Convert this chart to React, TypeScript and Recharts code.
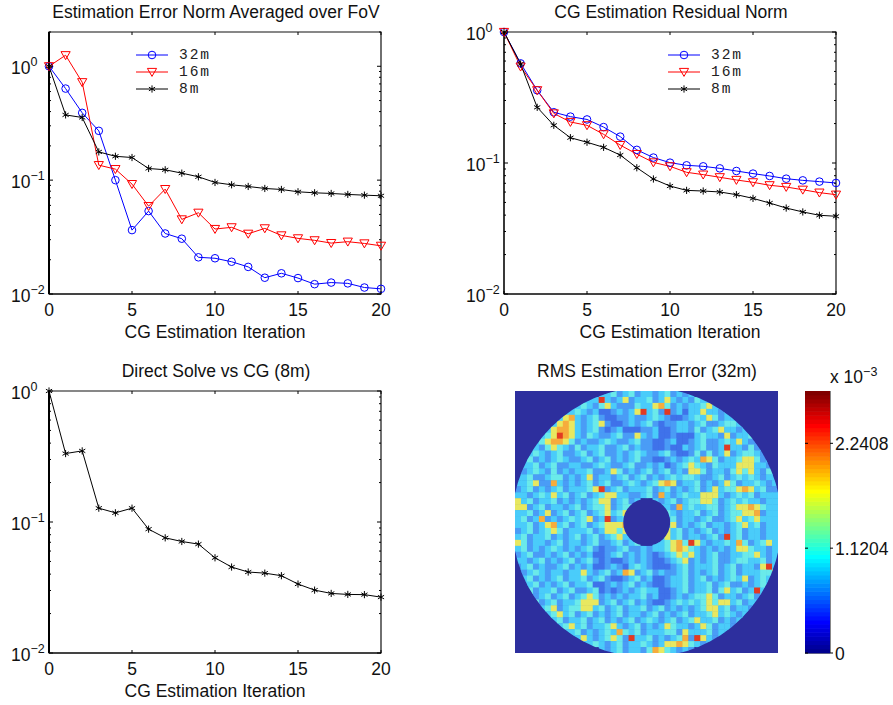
import { CSSProperties } from "react";
import {
  Line,
  LineChart,
  ReferenceArea,
  Scatter,
  ScatterChart,
  XAxis,
  YAxis,
} from "recharts";

const ITERATIONS = [0, 1, 2, 3, 4, 5, 6, 7, 8, 9, 10, 11, 12, 13, 14, 15, 16, 17, 18, 19, 20];
const X_TICKS = [0, 5, 10, 15, 20];

const FOV_32M = [1, 0.637, 0.39, 0.271, 0.1, 0.0364, 0.0535, 0.034, 0.0306, 0.021, 0.0206, 0.0192, 0.0173, 0.0139, 0.0152, 0.0138, 0.0122, 0.0126, 0.0124, 0.0114, 0.0111];
const FOV_16M = [1, 1.25, 0.724, 0.1354, 0.1249, 0.0923, 0.0591, 0.0834, 0.0452, 0.0517, 0.0372, 0.0385, 0.0338, 0.0377, 0.0327, 0.0308, 0.0296, 0.028, 0.0288, 0.0278, 0.0265];
const FOV_8M = [1, 0.374, 0.355, 0.177, 0.162, 0.158, 0.1266, 0.1233, 0.1152, 0.107, 0.0954, 0.091, 0.088, 0.0845, 0.0828, 0.079, 0.0774, 0.0764, 0.0749, 0.0738, 0.0729];

const RES_32M = [1, 0.576, 0.359, 0.244, 0.226, 0.215, 0.188, 0.159, 0.126, 0.11, 0.1006, 0.096, 0.0943, 0.091, 0.0869, 0.083, 0.0796, 0.0759, 0.0737, 0.0721, 0.0704];
const RES_16M = [1, 0.544, 0.359, 0.239, 0.2056, 0.194, 0.1655, 0.137, 0.117, 0.101, 0.0943, 0.0849, 0.0815, 0.0778, 0.0742, 0.0712, 0.0676, 0.0656, 0.0625, 0.0594, 0.0573];
const RES_8M = [1, 0.57, 0.266, 0.194, 0.156, 0.144, 0.1317, 0.115, 0.092, 0.0755, 0.0667, 0.0618, 0.0611, 0.0601, 0.0573, 0.0537, 0.0495, 0.0453, 0.0423, 0.0399, 0.0392];

const DIRECT_8M = [1, 0.333, 0.349, 0.1275, 0.1175, 0.1275, 0.0882, 0.0757, 0.071, 0.0678, 0.0533, 0.0453, 0.0415, 0.0407, 0.0389, 0.0336, 0.0302, 0.0285, 0.028, 0.0279, 0.0267];

const MINOR_LOG = [0.02, 0.03, 0.04, 0.05, 0.06, 0.07, 0.08, 0.09, 0.2, 0.3, 0.4, 0.5, 0.6, 0.7, 0.8, 0.9];
const DECADES: Record<string, string> = { "1": "0", "0.1": "\u22121", "0.01": "\u22122" };

// error map on a coarse 44 x 44 grid ("." is outside the annulus)
const HEAT_ROWS = [
  "........... ...33423423 32342323... ...........",
  "........... 33373235233 42353232433 ...........",
  ".........33 43245322243 35642323345 32.........",
  "........334 32311232357 34272313353 323........",
  "......33563 23421122322 34321123435 42334......",
  ".....335653 23452112323 42122332342 234433.....",
  "....3356653 23421231112 23112332423 4533233....",
  "...33457653 24322342253 23112111343 32523342...",
  "..334566542 32234322342 21123112342 234353223..",
  "..332454324 23342234232 21121132342 237332423..",
  ".3343234223 42342232343 22342112424 2352344323.",
  "33423234322 34234232342 21123234365 42334554233",
  "33342342233 22343223422 32312345432 43335553323",
  "32343242323 34223542323 42342325542 33245453243",
  "33422344232 35233234234 23234344322 34234343233",
  "33452263232 34234223432 34565233423 23542334323",
  "23423234233 34572342333 42342323423 53445653422",
  "33234353423 42345533223 42632343355 53234342333",
  "53423342323 2345523423. .3234234455 42343433233",
  "55234233234 234452344.. ..332634334 42345565433",
  "33423523423 42345345... ...43233423 42344556233",
  "34236232343 45237234... ...34233234 22345345333",
  "33423563423 42345556... ...45232342 33234534233",
  "23423454233 34235545... ...53423234 23234233233",
  "34233423234 234234533.. ..353423323 42734233233",
  "54233234233 2342234234. .3345647532 33436423453",
  "34232343232 34212234223 23345654323 23235543323",
  "23422323423 23112342323 21234545323 42233445323",
  "33234232342 34212112323 21123452323 42234433423",
  "23423223423 23112321343 21112342333 42342332573",
  "32343233233 53234236523 42322342323 42342333445",
  "33423234233 42342112342 31123342342 32343523433",
  "33342323423 34112323423 21123342334 23422323433",
  ".3423342342 23412123234 33112342334 2453423733.",
  "..323423423 45423232334 23112323445 423323423..",
  "..342342334 55523423423 21123434345 455342333..",
  "...23452344 55342342334 23423232345 53423323...",
  "....3345342 34232342332 34232342334 5343233....",
  ".....334233 42342323423 43234234533 423233.....",
  "......33453 42334532342 32354332354 23323......",
  "........334 23234364342 33344253334 233........",
  ".........33 53234542733 42323462753 23.........",
  "........... 33432342334 32355654323 ...........",
  "........... ...32342332 46543232... ...........",
];

const HEAT_COLORS: Record<string, string> = {
  ".": "#2d2f9e",
  "1": "#3f72ea",
  "2": "#4a9cf6",
  "3": "#4accfa",
  "4": "#6aeaea",
  "5": "#e8e860",
  "6": "#f6ac3c",
  "7": "#e23a22",
};

const COLORBAR_COLORS = [
  "#00008F", "#00009F", "#0000AF", "#0000BF", "#0000CF", "#0000DF", "#0000EF", "#0000FF",
  "#0010FF", "#0020FF", "#0030FF", "#0040FF", "#0050FF", "#0060FF", "#0070FF", "#0080FF",
  "#008FFF", "#009FFF", "#00AFFF", "#00BFFF", "#00CFFF", "#00DFFF", "#00EFFF", "#00FFFF",
  "#10FFEF", "#20FFDF", "#30FFCF", "#40FFBF", "#50FFAF", "#60FF9F", "#70FF8F", "#80FF80",
  "#8FFF70", "#9FFF60", "#AFFF50", "#BFFF40", "#CFFF30", "#DFFF20", "#EFFF10", "#FFFF00",
  "#FFEF00", "#FFDF00", "#FFCF00", "#FFBF00", "#FFAF00", "#FF9F00", "#FF8F00", "#FF8000",
  "#FF7000", "#FF6000", "#FF5000", "#FF4000", "#FF3000", "#FF2000", "#FF1000", "#FF0000",
  "#EF0000", "#DF0000", "#CF0000", "#BF0000", "#AF0000", "#9F0000", "#8F0000", "#800000",
];
const COLORBAR_MAX = 2.8;
const COLORBAR_TICKS = [0, 1.1204, 2.2408];

const FONT = "'Liberation Sans', Arial, sans-serif";
const FONT_SIZE = 17.5;
const PLOT_W = 332;
const PLOT_H = 262;

const heatCells = HEAT_ROWS.flatMap((row, r) =>
  row
    .replace(/ /g, "")
    .split("")
    .map((code, c) => ({ col: c + 0.5, row: r + 0.5, code }))
);
const colorbarCells = COLORBAR_COLORS.map((color, i) => ({
  x: 0.5,
  level: ((i + 0.5) * COLORBAR_MAX) / COLORBAR_COLORS.length,
  color,
}));

function CircleMark({ cx, cy, color }: any) {
  return <circle cx={cx} cy={cy} r={3.8} fill="none" stroke={color} strokeWidth={1} />;
}

function TriangleMark({ cx, cy, color }: any) {
  return (
    <polygon
      points={`${cx - 4.6},${cy - 3.6} ${cx + 4.6},${cy - 3.6} ${cx},${cy + 4.4}`}
      fill="none"
      stroke={color}
      strokeWidth={1}
    />
  );
}

function StarMark({ cx, cy, color }: any) {
  const r = 3.6;
  const d = 3.1;
  return (
    <g stroke={color} strokeWidth={1}>
      <line x1={cx} y1={cy - r} x2={cx} y2={cy + r} />
      <line x1={cx - d} y1={cy - r / 2} x2={cx + d} y2={cy + r / 2} />
      <line x1={cx - d} y1={cy + r / 2} x2={cx + d} y2={cy - r / 2} />
    </g>
  );
}

function XTick({ x, y, payload }: any) {
  return (
    <g>
      <line x1={x} y1={y} x2={x} y2={y - 3} stroke="#000" />
      <line x1={x} y1={y - PLOT_H} x2={x} y2={y - PLOT_H + 3} stroke="#000" />
      <text x={x} y={y + 22} textAnchor="middle" fontFamily={FONT} fontSize={FONT_SIZE} fill="#111">
        {payload.value}
      </text>
    </g>
  );
}

function YTick({ x, y, payload }: any) {
  const exp = DECADES[String(payload.value)];
  const len = exp ? 4 : 2;
  return (
    <g>
      <line x1={x} y1={y} x2={x + len} y2={y} stroke="#000" />
      <line x1={x + PLOT_W - len} y1={y} x2={x + PLOT_W} y2={y} stroke="#000" />
      {exp && (
        <text x={x - 38} y={y + 8} fontFamily={FONT} fontSize={FONT_SIZE} fill="#111">
          10
          <tspan dy={-8} fontSize={12.5}>
            {exp}
          </tspan>
        </text>
      )}
    </g>
  );
}

function ColorbarTick({ x, y, payload }: any) {
  return (
    <g>
      <line x1={x} y1={y} x2={x + 3} y2={y} stroke="#000" />
      <line x1={x - 25} y1={y} x2={x - 22} y2={y} stroke="#000" />
      <text x={x + 5} y={y + 7} fontFamily={FONT} fontSize={FONT_SIZE} fill="#111">
        {payload.value}
      </text>
    </g>
  );
}

function Title({ x, y, children }: any) {
  const style: CSSProperties = {
    position: "absolute",
    left: x - 250,
    top: y - 10,
    width: 500,
    textAlign: "center",
    fontFamily: FONT,
    fontSize: FONT_SIZE,
    lineHeight: "20px",
    color: "#111",
  };
  return <div style={style}>{children}</div>;
}

interface SeriesDef {
  name: string;
  values: number[];
  color: string;
  Mark: (p: any) => any;
}

const SERIES_32M = { name: "32m", color: "#0000ff", Mark: CircleMark };
const SERIES_16M = { name: "16m", color: "#ff0000", Mark: TriangleMark };
const SERIES_8M = { name: "8m", color: "#000000", Mark: StarMark };

function KeyBox({ left, top }: { left: number; top: number }) {
  const rows = [SERIES_32M, SERIES_16M, SERIES_8M];
  return (
    <div style={{ position: "absolute", left, top }}>
      {rows.map((s) => (
        <div key={s.name} style={{ display: "flex", alignItems: "center", height: 16.7 }}>
          <svg width={33} height={14}>
            <line x1={0} y1={7} x2={32} y2={7} stroke={s.color} />
            <s.Mark cx={16} cy={7} color={s.color} />
          </svg>
          <span
            style={{
              marginLeft: 10,
              fontFamily: "'Liberation Mono', monospace",
              fontSize: 14.6,
              letterSpacing: 1.9,
              lineHeight: "14px",
              color: "#222",
            }}
          >
            {s.name}
          </span>
        </div>
      ))}
    </div>
  );
}

function LogPanel({
  left,
  top,
  yMax,
  series,
  axisWidth,
}: {
  left: number;
  top: number;
  yMax: number;
  series: SeriesDef[];
  axisWidth: number;
}) {
  const data = ITERATIONS.map((it, i) => {
    const row: Record<string, number> = { it };
    series.forEach((s) => (row[s.name] = s.values[i]));
    return row;
  });
  const yTicks = [...MINOR_LOG, 0.01, 0.1, 1, ...(yMax > 1 ? [2] : [])];
  return (
    <div style={{ position: "absolute", left, top }}>
      <LineChart
        width={440}
        height={345}
        data={data}
        margin={{ top: 32, right: 440 - 49 - PLOT_W, bottom: 0, left: 0 }}
      >
        <XAxis
          dataKey="it"
          type="number"
          domain={[0, 20]}
          ticks={X_TICKS}
          interval={0}
          height={51}
          tickSize={0}
          tickMargin={0}
          tickLine={false}
          axisLine={{ stroke: "#000" }}
          tick={<XTick />}
          label={{
            value: "CG Estimation Iteration",
            position: "insideBottom",
            offset: 7,
            fontFamily: FONT,
            fontSize: FONT_SIZE,
            fill: "#111",
          }}
        />
        <YAxis
          type="number"
          scale="log"
          domain={[0.01, yMax]}
          ticks={yTicks}
          interval={0}
          width={49}
          tickSize={0}
          tickMargin={0}
          tickLine={false}
          axisLine={{ stroke: "#000", strokeWidth: axisWidth }}
          tick={<YTick />}
        />
        <ReferenceArea
          x1={0}
          x2={20}
          y1={0.01}
          y2={yMax}
          fill="none"
          stroke="#111"
          strokeWidth={1.2}
        />
        {series.map((s) => (
          <Line
            key={s.name}
            dataKey={s.name}
            type="linear"
            stroke={s.color}
            strokeWidth={1}
            isAnimationActive={false}
            dot={(p: any) => <s.Mark key={p.index} cx={p.cx} cy={p.cy} color={s.color} />}
          />
        ))}
      </LineChart>
    </div>
  );
}

function HeatCell({ cx, cy, payload }: any) {
  const w = 263 / 44;
  const h = 262 / 44;
  return (
    <rect
      x={cx - w / 2}
      y={cy - h / 2}
      width={w + 0.5}
      height={h + 0.5}
      fill={HEAT_COLORS[payload.code]}
    />
  );
}

function BarCell({ cx, cy, payload }: any) {
  const h = PLOT_H / COLORBAR_COLORS.length;
  return <rect x={cx - 12.5} y={cy - h / 2 - 0.3} width={25} height={h + 0.6} fill={payload.color} />;
}

// smooth rim and centre hole of the annulus
const ANNULUS_CLIP =
  "path(evenodd, 'M -3.1 131.3 a 134.8 134.8 0 1 0 269.6 0 a 134.8 134.8 0 1 0 -269.6 0 Z M 108.2 131.3 a 23.5 23.5 0 1 0 47 0 a 23.5 23.5 0 1 0 -47 0 Z')";

export default function App() {
  return (
    <div style={{ position: "absolute", left: 0, top: 0, width: 893, height: 705, background: "#fff" }}>
      <Title x={216} y={12}>Estimation Error Norm Averaged over FoV</Title>
      <LogPanel
        left={0}
        top={0}
        yMax={2}
        axisWidth={2}
        series={[
          { ...SERIES_32M, values: FOV_32M },
          { ...SERIES_16M, values: FOV_16M },
          { ...SERIES_8M, values: FOV_8M },
        ]}
      />
      <KeyBox left={136} top={47} />

      <Title x={671} y={12}>CG Estimation Residual Norm</Title>
      <LogPanel
        left={455}
        top={0}
        yMax={1}
        axisWidth={1}
        series={[
          { ...SERIES_32M, values: RES_32M },
          { ...SERIES_16M, values: RES_16M },
          { ...SERIES_8M, values: RES_8M },
        ]}
      />
      <KeyBox left={668} top={47} />

      <Title x={216} y={371}>Direct Solve vs CG (8m)</Title>
      <LogPanel
        left={0}
        top={359}
        yMax={1}
        axisWidth={2}
        series={[{ ...SERIES_8M, values: DIRECT_8M }]}
      />

      <Title x={647} y={371}>RMS Estimation Error (32m)</Title>
      <div style={{ position: "absolute", left: 515, top: 391, width: 263, height: 262, background: HEAT_COLORS["."] }}>
        <div style={{ clipPath: ANNULUS_CLIP, width: 263, height: 262 }}>
          <ScatterChart width={263} height={262} margin={{ top: 0, right: 0, bottom: 0, left: 0 }}>
            <XAxis dataKey="col" type="number" domain={[0, 44]} hide />
            <YAxis dataKey="row" type="number" domain={[0, 44]} reversed hide />
            <Scatter data={heatCells} isAnimationActive={false} shape={<HeatCell />} />
          </ScatterChart>
        </div>
      </div>

      <div style={{ position: "absolute", left: 805, top: 391 }}>
        <ScatterChart width={88} height={274} margin={{ top: 0, right: 0, bottom: 12, left: 0 }}>
          <XAxis dataKey="x" type="number" domain={[0, 1]} hide />
          <YAxis
            dataKey="level"
            type="number"
            orientation="right"
            domain={[0, COLORBAR_MAX]}
            ticks={COLORBAR_TICKS}
            interval={0}
            width={63}
            tickSize={0}
            tickMargin={0}
            tickLine={false}
            axisLine={false}
            tick={<ColorbarTick />}
          />
          <Scatter data={colorbarCells} isAnimationActive={false} shape={<BarCell />} />
          <ReferenceArea x1={0} x2={1} y1={0} y2={COLORBAR_MAX} fill="none" stroke="#111" />
        </ScatterChart>
      </div>
      <div
        style={{
          position: "absolute",
          left: 830,
          top: 367,
          fontFamily: FONT,
          fontSize: FONT_SIZE,
          lineHeight: "20px",
          whiteSpace: "nowrap",
          color: "#111",
        }}
      >
        x 10<sup style={{ fontSize: 12.5, lineHeight: 0 }}>{"\u22123"}</sup>
      </div>
    </div>
  );
}
